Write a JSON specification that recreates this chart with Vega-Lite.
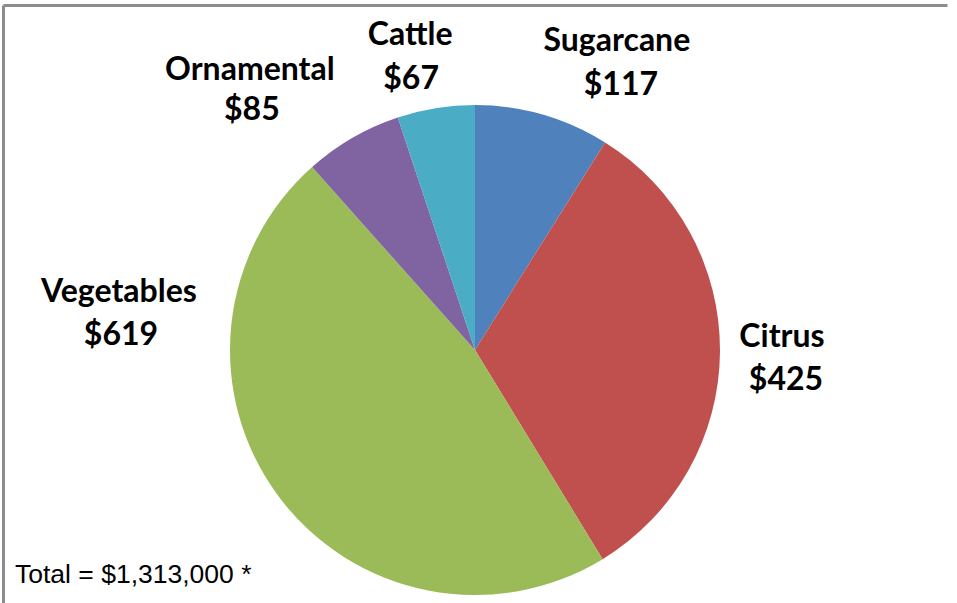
{
  "$schema": "https://vega.github.io/schema/vega-lite/v6.json",
  "width": 944,
  "height": 690,
  "autosize": {"type": "none"},
  "padding": {"left": 3, "top": 5, "right": 10, "bottom": -92},
  "background": "white",
  "view": {"stroke": null, "strokeOpacity": 0},
  "config": {
    "view": {"stroke": null, "strokeOpacity": 0},
    "style": {"cell": {"stroke": null, "strokeOpacity": 0}},
    "axis": {"domainColor": "#8c8c8c", "domainWidth": 3, "ticks": false, "labels": false, "grid": false, "gridOpacity": 0, "tickOpacity": 0, "title": null},
    "text": {"font": "Lato", "fontWeight": "bold", "fontSize": 32, "align": "center", "baseline": "alphabetic", "color": "black"}
  },
  "data": {
    "values": [
      {"crop": "Sugarcane", "value": 117, "order": 1},
      {"crop": "Citrus", "value": 425, "order": 2},
      {"crop": "Vegetables", "value": 619, "order": 3},
      {"crop": "Ornamental", "value": 85, "order": 4},
      {"crop": "Cattle", "value": 67, "order": 5}
    ]
  },
  "encoding": {
    "theta": {"field": "value", "type": "quantitative", "stack": true},
    "order": {"field": "order", "type": "quantitative"}
  },
  "layer": [
    {
      "data": {"values": [{"frame": 0}]},
      "mark": {"type": "point", "opacity": 0},
      "encoding": {
        "theta": null,
        "order": null,
        "x": {"field": "frame", "type": "quantitative", "scale": {"domain": [0, 1]}, "axis": {"orient": "top", "grid": false, "ticks": false, "labels": false}},
        "y": {"field": "frame", "type": "quantitative", "scale": {"domain": [0, 1]}, "axis": {"orient": "left", "grid": false, "ticks": false, "labels": false}}
      }
    },
    {
      "mark": {"type": "arc", "outerRadius": 245},
      "encoding": {
        "color": {
          "field": "crop",
          "type": "nominal",
          "scale": {
            "domain": ["Sugarcane", "Citrus", "Vegetables", "Ornamental", "Cattle"],
            "range": ["#4F81BD", "#C0504D", "#9BBB59", "#8064A2", "#4BACC6"]
          },
          "legend": null
        }
      }
    },
    {"mark": {"type": "text", "radius": 300, "dx": 59, "dy": -11},
     "encoding": {"text": {"condition": {"test": "datum.crop === 'Sugarcane'", "field": "crop"}, "value": ""}}},
    {"mark": {"type": "text", "radius": 300, "dx": 63, "dy": 33},
     "encoding": {"text": {"condition": {"test": "datum.crop === 'Sugarcane'", "field": "value", "type": "quantitative", "format": "$d"}, "value": ""}}},
    {"mark": {"type": "text", "radius": 300, "dx": 7, "dy": -5},
     "encoding": {"text": {"condition": {"test": "datum.crop === 'Citrus'", "field": "crop"}, "value": ""}}},
    {"mark": {"type": "text", "radius": 300, "dx": 11, "dy": 38},
     "encoding": {"text": {"condition": {"test": "datum.crop === 'Citrus'", "field": "value", "type": "quantitative", "format": "$d"}, "value": ""}}},
    {"mark": {"type": "text", "radius": 300, "dx": -115, "dy": -227},
     "encoding": {"text": {"condition": {"test": "datum.crop === 'Vegetables'", "field": "crop"}, "value": ""}}},
    {"mark": {"type": "text", "radius": 300, "dx": -113, "dy": -184},
     "encoding": {"text": {"condition": {"test": "datum.crop === 'Vegetables'", "field": "value", "type": "quantitative", "format": "$d"}, "value": ""}}},
    {"mark": {"type": "text", "radius": 300, "dx": -75, "dy": -10},
     "encoding": {"text": {"condition": {"test": "datum.crop === 'Ornamental'", "field": "crop"}, "value": ""}}},
    {"mark": {"type": "text", "radius": 300, "dx": -73, "dy": 30},
     "encoding": {"text": {"condition": {"test": "datum.crop === 'Ornamental'", "field": "value", "type": "quantitative", "format": "$d"}, "value": ""}}},
    {"mark": {"type": "text", "radius": 300, "dx": -17, "dy": -9},
     "encoding": {"text": {"condition": {"test": "datum.crop === 'Cattle'", "field": "crop"}, "value": ""}}},
    {"mark": {"type": "text", "radius": 300, "dx": -16, "dy": 35},
     "encoding": {"text": {"condition": {"test": "datum.crop === 'Cattle'", "field": "value", "type": "quantitative", "format": "$d"}, "value": ""}}},
    {
      "data": {"values": [{"note": "Total = $1,313,000 *"}]},
      "mark": {"type": "text", "font": "Liberation Sans", "fontWeight": "normal", "fontSize": 26.5, "align": "left", "dx": -460, "dy": 233},
      "encoding": {"theta": null, "order": null, "text": {"field": "note"}}
    }
  ]
}
